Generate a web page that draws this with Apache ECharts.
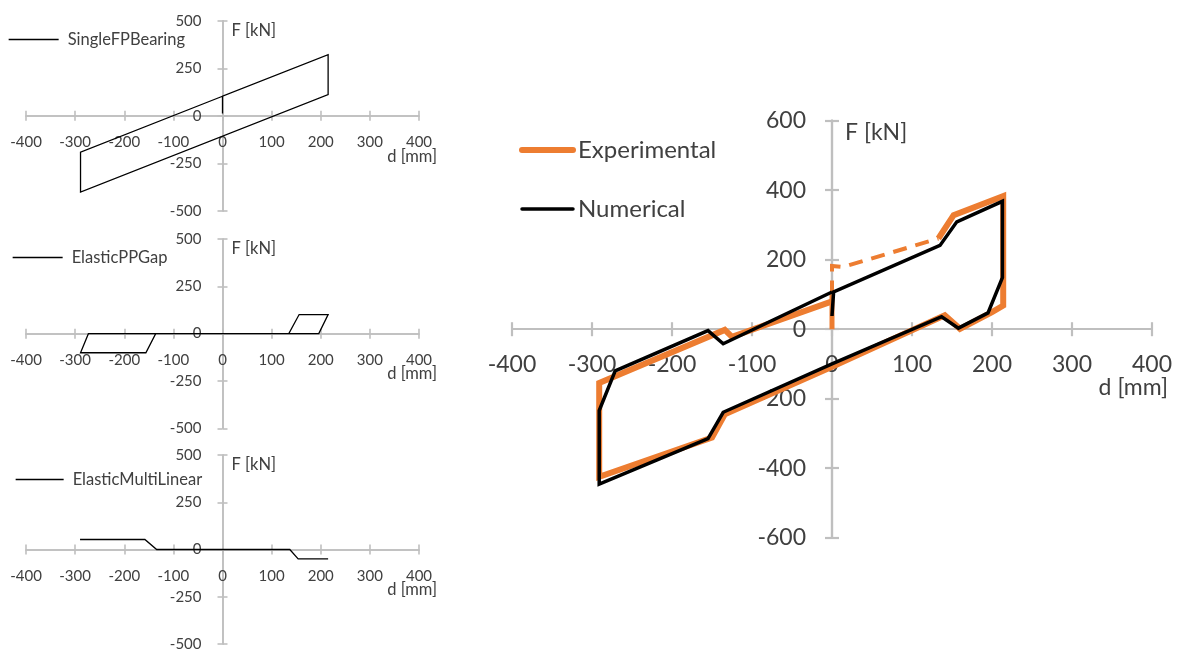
<!DOCTYPE html>
<html>
<head>
<meta charset="utf-8">
<script src="https://cdn.jsdelivr.net/npm/echarts@6/dist/echarts.min.js"></script>
<style>
  html, body { margin: 0; padding: 0; background: #fff; }
  #chart { width: 1180px; height: 655px; }
</style>
</head>
<body>
<div id="chart"></div>
<script>
// Component hysteresis loops (d [mm], F [kN])
const singleFPBearing = [[0, 12], [0, 103], [215, 321], [215, 112], [-289, -401], [-289, -191], [0, 103]];
const elasticPPGap = [[0, 0], [135, 0], [156, 101], [215, 101], [196, 0], [-136, 0], [-156, -101], [-289, -101], [-273, 0], [0, 0]];
const elasticMultiLinear = [[-290, 53], [-158, 53], [-134, 0], [137, 0], [154, -50], [215, -50]];

// Bearing test: experimental record (initial rise, break-away segment, full loop)
const expStart = [[0, 0], [0, 100]];
const expBreakaway = [[0, 100], [0, 182], [14, 179], [133, 261]];
const expLoop = [[133, 261], [152, 328], [214, 383], [214, 68], [200, 49], [160, 1], [141, 40], [0, -108],
  [-134, -245], [-150, -312], [-291, -425], [-291, -155], [-134, -2], [-125, -22], [0, 80]];

// Numerical model response (sum of the three components)
const numerical = [[0, 38], [2, 107], [135, 241], [156, 309], [213, 368], [213, 148], [195, 47], [158, 3], [137, 36],
  [0, -100], [-136, -239], [-155, -315], [-291, -446], [-291, -234], [-271, -120], [-155, -4], [-136, -42], [0, 107]];

// Axis ranges
const smallX = { min: -400, max: 400, interval: 100 };
const smallY = { min: -500, max: 500, interval: 250 };
const bigX = { min: -400, max: 400, interval: 100 };
const bigY = { min: -600, max: 600, interval: 200 };

const FONT = 'Lato';
const TEXT = '#404040';
const AXIS = '#bfbfbf';

const grids = [
  { left: 26, top: 20.7, width: 393, height: 190.3 },
  { left: 26, top: 239, width: 393, height: 189.3 },
  { left: 26, top: 455, width: 393, height: 189 },
  { left: 512, top: 120.7, width: 640, height: 417 }
];

// Per-grid axis styling
const smallCfg = { xr: smallX, yr: smallY, font: 15, lw: 1.6, tick: 5, xMargin: 19, yMargin: 21, nameFont: 16.5,
  yNameGap: -10, yNamePad: 9, xNameGap: 18, xNamePad: 32 };
const axisCfg = [
  smallCfg, smallCfg, smallCfg,
  { xr: bigX, yr: bigY, font: 23, lw: 2.2, tick: 7, xMargin: 24, yMargin: 26, nameFont: 23,
    yNameGap: -12, yNamePad: 13, xNameGap: 16, xNamePad: 47 }
];

// Axes cross at the origin: each axis is shifted from the grid edge to the centre line
// (ranges are symmetric), and a companion axis on the opposite side completes the tick crosses.
const xAxes = [];
const yAxes = [];
axisCfg.forEach((c, g) => {
  const gr = grids[g];
  const xShift = -(gr.height * (c.yr.max / (c.yr.max - c.yr.min)));
  const yShift = -(gr.width * (-c.xr.min / (c.xr.max - c.xr.min)));
  const line = { onZero: false, lineStyle: { color: AXIS, width: c.lw } };
  const tick = { show: true, length: c.tick, lineStyle: { color: AXIS, width: c.lw } };
  xAxes.push({
    type: 'value', gridIndex: g, position: 'bottom', offset: -(gr.height + xShift),
    min: c.xr.min, max: c.xr.max, interval: c.xr.interval,
    axisLine: line, axisTick: tick, splitLine: { show: false },
    axisLabel: { show: true, margin: c.xMargin, color: TEXT, fontFamily: FONT, fontSize: c.font },
    name: 'd [mm]', nameLocation: 'end', nameGap: c.xNameGap, nameMoveOverlap: false,
    nameTextStyle: { color: TEXT, fontFamily: FONT, fontSize: c.nameFont, align: 'right',
      verticalAlign: 'top', padding: [c.xNamePad, 0, 0, 0] }
  });
  xAxes.push({
    type: 'value', gridIndex: g, position: 'top', offset: xShift,
    min: c.xr.min, max: c.xr.max, interval: c.xr.interval,
    axisLine: line, axisTick: tick, splitLine: { show: false }, axisLabel: { show: false }
  });
  yAxes.push({
    type: 'value', gridIndex: g, position: 'left', offset: yShift,
    min: c.yr.min, max: c.yr.max, interval: c.yr.interval,
    axisLine: line, axisTick: tick, splitLine: { show: false },
    axisLabel: { show: true, margin: c.yMargin, color: TEXT, fontFamily: FONT, fontSize: c.font },
    name: 'F [kN]', nameLocation: 'end', nameGap: c.yNameGap, nameMoveOverlap: false,
    nameTextStyle: { color: TEXT, fontFamily: FONT, fontSize: c.nameFont, align: 'left',
      verticalAlign: 'middle', padding: [0, 0, 0, c.yNamePad] }
  });
  yAxes.push({
    type: 'value', gridIndex: g, position: 'right', offset: -(gr.width + yShift),
    min: c.yr.min, max: c.yr.max, interval: c.yr.interval,
    axisLine: line, axisTick: tick, splitLine: { show: false }, axisLabel: { show: false }
  });
});

function lineSeries(name, g, data, color, width, type, z) {
  return {
    name: name, type: 'line', xAxisIndex: 2 * g, yAxisIndex: 2 * g,
    data: data, symbol: 'none', showSymbol: false, silent: true, z: z || 2,
    lineStyle: { color: color, width: width, type: type || 'solid', cap: 'butt', join: 'miter' },
    itemStyle: { color: color }
  };
}

const ORANGE = '#ed7d31';
const series = [
  lineSeries('SingleFPBearing', 0, singleFPBearing, '#000', 1.3),
  lineSeries('ElasticPPGap', 1, elasticPPGap, '#000', 1.3),
  lineSeries('ElasticMultiLinear', 2, elasticMultiLinear, '#000', 1.3),
  lineSeries('Experimental', 3, expLoop, ORANGE, 6, 'solid', 2),
  lineSeries('Experimental', 3, expStart, ORANGE, 5, 'solid', 2),
  lineSeries('Experimental ', 3, expBreakaway, ORANGE, 4, [14, 9], 2),
  lineSeries('Numerical', 3, numerical, '#000', 3.5, 'solid', 3)
];

// legend keys are plain line samples
const hideSymbol = { color: 'transparent', borderWidth: 0, opacity: 0 };

const smallLegend = (name, left, top, width) => ({
  data: [{ name: name, lineStyle: { width: 1.3 } }], left: left, top: top,
  itemWidth: width, itemHeight: 14, padding: 0,
  selectedMode: false, itemStyle: hideSymbol,
  textStyle: { color: TEXT, fontFamily: FONT, fontSize: 16.5, padding: [0, 0, 0, 4] }
});

const option = {
  animation: false,
  backgroundColor: '#fff',
  grid: grids.map(g => Object.assign({ containLabel: false }, g)),
  xAxis: xAxes,
  yAxis: yAxes,
  legend: [
    smallLegend('SingleFPBearing', 8, 31, 50),
    smallLegend('ElasticPPGap', 12, 249, 50),
    smallLegend('ElasticMultiLinear', 15, 471, 48),
    {
      data: [
        { name: 'Experimental', lineStyle: { width: 6, cap: 'round' } },
        { name: 'Numerical', lineStyle: { width: 3.5, cap: 'round' } }
      ],
      orient: 'vertical', left: 519, top: 138, padding: 0,
      itemWidth: 51, itemHeight: 14, itemGap: 35, selectedMode: false, itemStyle: hideSymbol,
      textStyle: { color: TEXT, fontFamily: FONT, fontSize: 24, padding: [0, 0, 0, 0] }
    }
  ],
  series: series
};

const chart = echarts.init(document.getElementById('chart'), null, { renderer: 'canvas' });
chart.setOption(option);
</script>
</body>
</html>
